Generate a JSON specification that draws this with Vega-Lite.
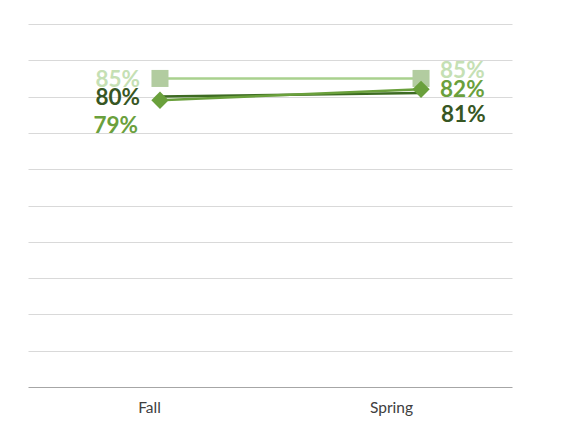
{
  "$schema": "https://vega.github.io/schema/vega-lite/v6.json",
  "width": 484,
  "height": 363,
  "autosize": "none",
  "padding": {"left": 28, "top": 24, "right": 52, "bottom": 44},
  "background": "white",
  "config": {"view": {"stroke": null}},
  "data": {
    "values": [
      {"term": "Fall", "series": "A", "value": 0.85},
      {"term": "Spring", "series": "A", "value": 0.85},
      {"term": "Fall", "series": "B", "value": 0.80},
      {"term": "Spring", "series": "B", "value": 0.81},
      {"term": "Fall", "series": "C", "value": 0.79},
      {"term": "Spring", "series": "C", "value": 0.82}
    ]
  },
  "encoding": {
    "x": {
      "field": "term", "type": "ordinal", "sort": ["Fall", "Spring"],
      "scale": {"type": "point", "padding": 0.427, "align": 0.592},
      "axis": {"title": null, "domain": false, "ticks": false, "labelAngle": 0, "labelOffset": {"condition": {"test": "datum.value === 'Fall'", "value": -11}, "value": -30}, "labelPadding": 13, "labelFont": "Lato", "labelFontSize": 15.5, "labelColor": "#404040", "grid": false}
    },
    "y": {
      "field": "value", "type": "quantitative",
      "scale": {"domain": [0, 1], "nice": false},
      "axis": {"title": null, "labels": false, "ticks": false, "domain": false, "values": [0, 0.1, 0.2, 0.3, 0.4, 0.5, 0.6, 0.7, 0.8, 0.9, 1.0], "gridColor": {"condition": {"test": "datum.value === 0", "value": "#A6A6A6"}, "value": "#D9D9D9"}, "gridWidth": 1}
    }
  },
  "layer": [
    {
      "transform": [{"filter": "datum.series === 'A'"}],
      "mark": {"type": "line", "color": "#A9D18E", "strokeWidth": 2.5, "point": {"shape": "square", "size": 290, "filled": true, "color": "#B2CCA0", "opacity": 1}}
    },
    {
      "transform": [{"filter": "datum.series === 'B'"}],
      "mark": {"type": "line", "color": "#3D6B22", "strokeWidth": 2.5}
    },
    {
      "transform": [{"filter": "datum.series === 'C'"}],
      "mark": {"type": "line", "color": "#6AA03C", "strokeWidth": 2.5, "point": {"shape": "diamond", "size": 300, "filled": true, "color": "#6AA03C", "opacity": 1}}
    },
    {
      "transform": [{"filter": "datum.term === 'Fall' && datum.series !== 'C'"}],
      "mark": {"type": "text", "align": "right", "baseline": "middle", "dx": -20, "dy": 1.5, "font": "Lato", "fontSize": 22.5, "fontWeight": "bold"},
      "encoding": {
        "text": {"field": "value", "type": "quantitative", "format": ".0%"},
        "color": {"field": "series", "type": "nominal", "scale": {"domain": ["A", "B", "C"], "range": ["#C5E0B4", "#375623", "#6AA03C"]}, "legend": null}
      }
    },
    {
      "transform": [{"filter": "datum.term === 'Fall' && datum.series === 'C'"}],
      "mark": {"type": "text", "align": "right", "baseline": "middle", "dx": -22, "dy": 26, "font": "Lato", "fontSize": 22.5, "fontWeight": "bold"},
      "encoding": {
        "text": {"field": "value", "type": "quantitative", "format": ".0%"},
        "color": {"field": "series", "type": "nominal", "legend": null}
      }
    },
    {
      "transform": [{"filter": "datum.term === 'Spring' && datum.series === 'A'"}],
      "mark": {"type": "text", "align": "left", "baseline": "middle", "dx": 19, "dy": -7, "font": "Lato", "fontSize": 22.5, "fontWeight": "bold"},
      "encoding": {
        "text": {"field": "value", "type": "quantitative", "format": ".0%"},
        "color": {"field": "series", "type": "nominal", "legend": null}
      }
    },
    {
      "transform": [{"filter": "datum.term === 'Spring' && datum.series === 'C'"}],
      "mark": {"type": "text", "align": "left", "baseline": "middle", "dx": 19, "dy": 1, "font": "Lato", "fontSize": 22.5, "fontWeight": "bold"},
      "encoding": {
        "text": {"field": "value", "type": "quantitative", "format": ".0%"},
        "color": {"field": "series", "type": "nominal", "legend": null}
      }
    },
    {
      "transform": [{"filter": "datum.term === 'Spring' && datum.series === 'B'"}],
      "mark": {"type": "text", "align": "left", "baseline": "middle", "dx": 20, "dy": 22, "font": "Lato", "fontSize": 22.5, "fontWeight": "bold"},
      "encoding": {
        "text": {"field": "value", "type": "quantitative", "format": ".0%"},
        "color": {"field": "series", "type": "nominal", "legend": null}
      }
    }
  ]
}
